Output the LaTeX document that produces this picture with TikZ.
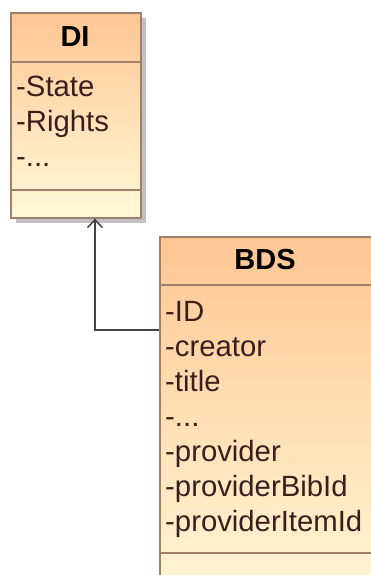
\documentclass[tikz,border=0pt]{standalone}
\usepackage{fontspec}
\setmainfont{Liberation Sans}
\usetikzlibrary{arrows.meta,shadows}
\definecolor{umlTop}{HTML}{FFC693}
\definecolor{umlMid}{HTML}{FFE0B6}
\definecolor{umlBot}{HTML}{FFF9D8}
\definecolor{umlEdge}{HTML}{A0806A}
\definecolor{umlText}{HTML}{3A1E1E}
\definecolor{umlLink}{HTML}{444444}
\tikzset{
  classbox/.style={draw=umlEdge, line width=1.6pt, rectangle, inner sep=0pt,
    top color=umlTop, bottom color=umlBot, middle color=umlMid,
    drop shadow={shadow xshift=5pt, shadow yshift=-5pt, fill=black!30, opacity=0.8}},
  sepline/.style={draw=umlEdge, line width=1.6pt},
  classname/.style={font=\fontsize{29}{34}\selectfont\bfseries, text=black, inner sep=0pt},
  attr/.style={font=\fontsize{29.3}{34}\selectfont, text=umlText, inner sep=0pt, anchor=base west},
  genlink/.style={draw=umlLink, line width=1.5pt, -{Straight Barb[length=8pt,width=15pt,line width=1.5pt]}}
}
\begin{document}
\begin{tikzpicture}[x=1pt,y=-1pt]
\clip (0,0) rectangle (371,575);
\fill[white] (0,0) rectangle (371,575);

% class DI
\node[classbox, minimum width=130pt, minimum height=205pt, anchor=north west] (di) at (10,12) {};
\draw[sepline] (di.west |- 0,62) -- (di.east |- 0,62);
\draw[sepline] (di.west |- 0,190) -- (di.east |- 0,190);
\node[classname] (diname) at (75,37) {DI};
\node[attr] (di1) at (16,97) {-State};
\node[attr] (di2) at (16,131.5) {-Rights};
\node[attr] (di3) at (16,166) {-...};

% class BDS
\node[classbox, minimum width=212pt, minimum height=380pt, anchor=north west] (bds) at (159,236) {};
\draw[sepline] (bds.west |- 0,285) -- (bds.east |- 0,285);
\draw[sepline] (bds.west |- 0,553) -- (bds.east |- 0,553);
\node[classname] (bdsname) at (265,260) {BDS};
\node[attr] (b1) at (165,321) {-ID};
\node[attr] (b2) at (165,356) {-creator};
\node[attr] (b3) at (165,391) {-title};
\node[attr] (b4) at (165,426) {-...};
\node[attr] (b5) at (165,461) {-provider};
\node[attr] (b6) at (165,496) {-providerBibId};
\node[attr] (b7) at (165,531) {-providerItemId};

% generalization BDS -> DI
\coordinate (bend) at (95,330);
\draw[genlink] (bds.west |- bend) -| (di.south -| bend);
\end{tikzpicture}
\end{document}
